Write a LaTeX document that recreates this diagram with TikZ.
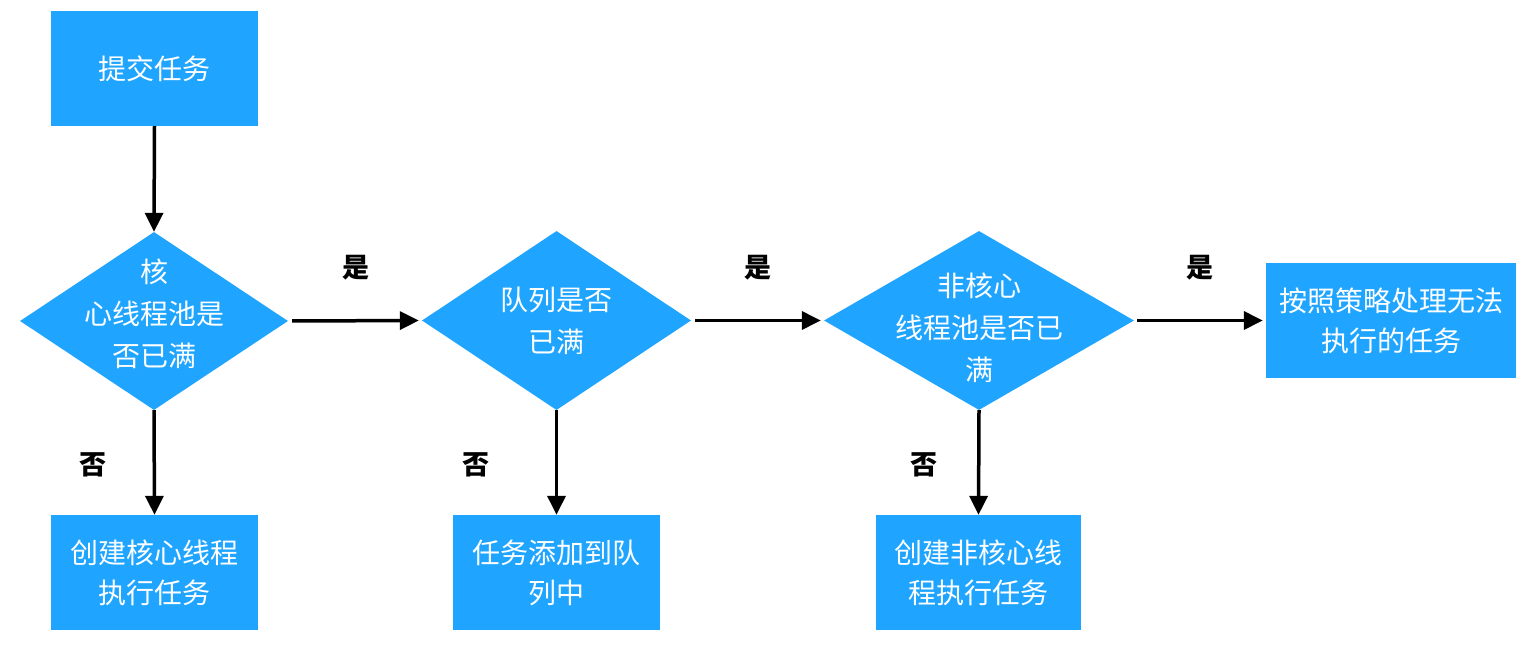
\documentclass[tikz,border=0pt]{standalone}
\usepackage{fontspec}
\newfontfamily\cjk{Noto Sans CJK SC}
\usetikzlibrary{arrows.meta,shapes.geometric}
\definecolor{fillblue}{HTML}{1FA5FF}
\begin{document}
\begin{tikzpicture}[x=1pt,y=-1pt,
  box/.style={fill=fillblue,draw=none,minimum width=207pt,minimum height=115pt,inner sep=0pt,
    text=white,align=center,font=\cjk\fontsize{28}{40}\selectfont},
  dia/.style={diamond,fill=fillblue,draw=none,inner sep=0pt,aspect=1.5},
  dtext/.style={text=white,align=center,font=\cjk\fontsize{28}{42}\selectfont,inner sep=0pt},
  lbl/.style={text=black,font=\cjk\bfseries\fontsize{27}{30}\selectfont,inner sep=0pt},
  arr/.style={draw=black,line width=3.5pt,-{Triangle[length=19pt,width=18pt]}}
]
\useasboundingbox (0,0) rectangle (1536,650);
% top box
\node[box] (start) at (154.5,68.5) {提交任务};
% diamonds
\node[dia,minimum width=268pt,minimum height=178pt] (d1) at (154,321) {};
\node[dtext] (t1) at (154,314) {核\\心线程池是\\否已满};
\node[dia,minimum width=269pt,minimum height=179pt] (d2) at (556.5,320.5) {};
\node[dtext] (t2) at (556.5,321) {队列是否\\已满};
\node[dia,minimum width=310pt,minimum height=179pt] (d3) at (979,320.5) {};
\node[dtext] (t3) at (979,328) {非核心\\线程池是否已\\满};
% right box
\node[box,minimum width=250pt] (r) at (1391,320.5) {按照策略处理无法\\执行的任务};
% bottom boxes
\node[box] (b1) at (154.5,572.5) {创建核心线程\\执行任务};
\node[box] (b2) at (556.5,572.5) {任务添加到队\\列中};
\node[box,minimum width=205pt] (b3) at (978.5,572.5) {创建非核心线\\程执行任务};
% connectors
\draw[arr] (start.south) -- (d1.north);
\draw[arr,shorten <=4pt,shorten >=3pt] (d1.east) -- (d2.west);
\draw[arr,shorten <=4pt,shorten >=3pt] (d2.east) -- (d3.west);
\draw[arr,shorten <=3pt,shorten >=3pt] (d3.east) -- (r.west);
\draw[arr] (d1.south) -- (b1.north);
\draw[arr] (d2.south) -- (b2.north);
\draw[arr] (d3.south) -- (b3.north);
% labels
\node[lbl] (y1) at (356,268) {是};
\node[lbl] (y2) at (758,268) {是};
\node[lbl] (y3) at (1200,268) {是};
\node[lbl] (n1) at (93,465) {否};
\node[lbl] (n2) at (476,465) {否};
\node[lbl] (n3) at (924,465) {否};
\end{tikzpicture}
\end{document}
